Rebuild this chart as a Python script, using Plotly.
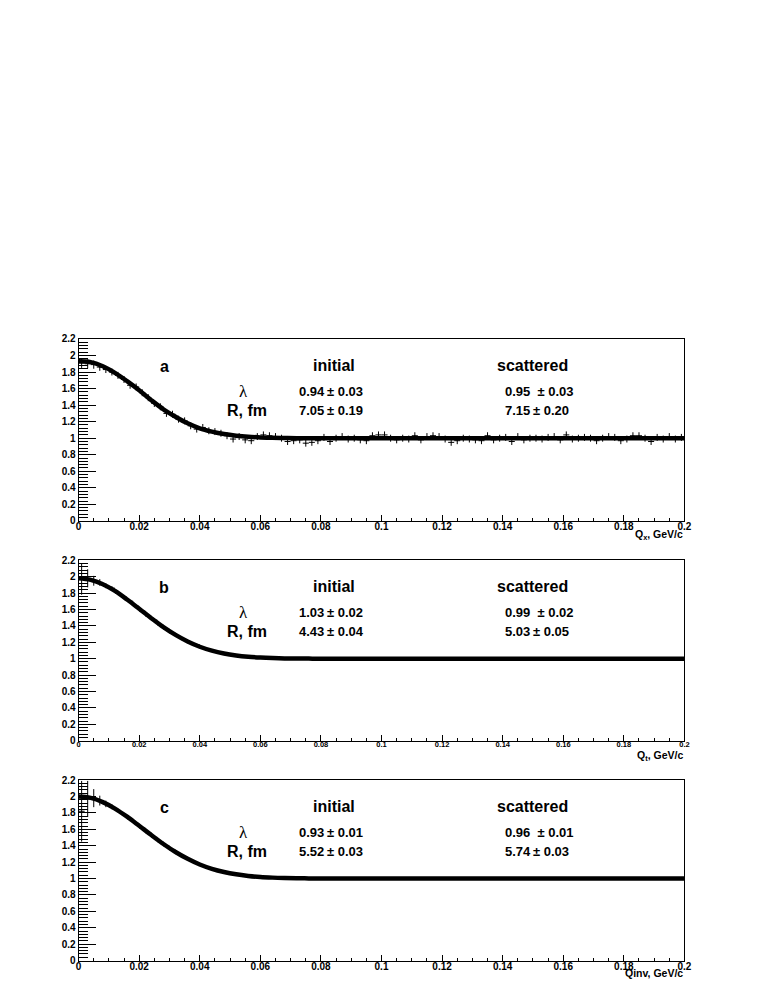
import plotly.graph_objects as go
from plotly.subplots import make_subplots

# correlation function C(q) per bin, bins of 0.002 GeV/c starting at 0
ratio_a = [1.91, 1.90, 1.89, 1.86, 1.83, 1.80, 1.76, 1.71, 1.64, 1.62,
           1.55, 1.49, 1.42, 1.38, 1.30, 1.29, 1.23, 1.21, 1.15, 1.11,
           1.13, 1.09, 1.08, 1.06, 1.03, 0.99, 1.02, 0.98, 0.97, 1.02,
           1.04, 1.03, 1.02, 1.00, 0.96, 0.97, 0.98, 0.94, 0.95, 0.97,
           1.01, 0.96, 1.00, 1.02, 0.99, 1.00, 0.98, 0.97, 1.03, 1.04,
           1.04, 1.00, 0.98, 1.00, 0.99, 1.03, 0.98, 1.02, 1.03, 1.02,
           0.99, 0.95, 0.97, 1.00, 0.99, 0.98, 0.97, 1.03, 0.98, 1.00,
           1.01, 0.96, 1.02, 0.98, 1.00, 1.00, 0.99, 1.01, 1.02, 0.98,
           1.04, 0.99, 1.00, 1.01, 1.00, 0.97, 1.00, 1.02, 1.01, 0.97,
           0.99, 1.03, 1.03, 1.00, 0.96, 1.01, 0.99, 1.02, 0.99, 1.01]
err_a = [0.06, 0.055, 0.05, 0.045] + [0.042] * 96

ratio_b = [1.97, 1.98, 1.95, 1.93, 1.89, 1.86, 1.80, 1.75, 1.70, 1.64,
           1.58, 1.52, 1.47, 1.41, 1.36, 1.31, 1.27, 1.23, 1.19, 1.17,
           1.13, 1.11, 1.09, 1.07, 1.055, 1.04, 1.035, 1.03, 1.02, 1.015,
           1.02, 1.01, 1.005, 1.005, 1.0, 1.0,
           1.002, 0.998, 1.001, 0.999, 1.000, 1.002, 0.997, 1.001, 1.000, 0.999,
           1.001, 1.000, 0.998, 1.002, 1.000, 0.999, 1.001, 1.000, 0.998, 1.001,
           1.000, 1.002, 0.999, 1.000, 1.001, 0.999, 1.000, 1.001, 0.998, 1.000,
           1.002, 0.999, 1.000, 1.001, 1.000, 0.999, 1.001, 0.998, 1.000, 1.001,
           0.999, 1.000, 1.002, 1.000, 0.999, 1.001, 1.000, 0.998, 1.001, 1.000,
           0.999, 1.001, 1.000, 1.002, 0.999, 1.000, 1.001, 0.999, 1.000, 1.001,
           1.000, 0.999, 1.001, 1.000]
err_b = [0.19, 0.11, 0.06, 0.04, 0.03, 0.025, 0.02, 0.018, 0.016, 0.015] + [0.012] * 20 + [0.008] * 70

ratio_c = [1.82, 1.97, 1.98, 1.95, 1.91, 1.875, 1.83, 1.78, 1.727, 1.672,
           1.615, 1.558, 1.502, 1.448, 1.396, 1.347, 1.301, 1.259, 1.221, 1.187,
           1.157, 1.13, 1.107, 1.088, 1.071, 1.057, 1.045, 1.036, 1.028, 1.022,
           1.017, 1.013, 1.01, 1.007, 1.005, 1.004, 1.003, 1.002, 1.001,
           1.001, 1.000, 0.999, 1.000, 1.001, 1.000, 0.999, 1.000, 1.000, 1.001,
           0.999, 1.000, 1.001, 1.000, 0.999, 1.000, 1.001, 1.000, 1.000, 0.999,
           1.000, 1.001, 1.000, 0.999, 1.000, 1.000, 1.001, 0.999, 1.000, 1.000,
           1.001, 1.000, 0.999, 1.000, 1.001, 1.000, 1.000, 0.999, 1.000, 1.001,
           1.000, 0.999, 1.000, 1.001, 1.000, 1.000, 0.999, 1.000, 1.001, 1.000,
           0.999, 1.000, 1.000, 1.001, 1.000, 0.999, 1.000, 1.001, 1.000, 1.000,
           0.999]
err_c = [0.37, 0.22, 0.11, 0.06, 0.04, 0.03, 0.02, 0.015] + [0.006] * 92

# fitted curves
q_fit = [0.0, 0.004, 0.008, 0.012, 0.016, 0.02, 0.024, 0.028, 0.032, 0.036, 0.04,
         0.044, 0.048, 0.052, 0.056, 0.06, 0.064, 0.068, 0.072, 0.076, 0.08, 0.14, 0.2]
fit_a = [1.93, 1.92, 1.87, 1.79, 1.69, 1.58, 1.46, 1.35, 1.26, 1.18, 1.12,
         1.08, 1.05, 1.03, 1.017, 1.01, 1.005, 1.003, 1.001, 1.0, 1.0, 1.0, 1.0]
fit_b = [1.98, 1.961, 1.908, 1.826, 1.722, 1.609, 1.494, 1.385, 1.29, 1.21, 1.146,
         1.098, 1.063, 1.039, 1.023, 1.0135, 1.0075, 1.004, 1.002, 1.001, 1.0, 1.0, 1.0]
fit_c = [2.0, 1.983, 1.932, 1.853, 1.754, 1.643, 1.530, 1.421, 1.323, 1.240, 1.171,
         1.118, 1.079, 1.051, 1.032, 1.019, 1.011, 1.006, 1.003, 1.0015, 1.0, 1.0, 1.0]

panels = ["a", "b", "c"]
axis_titles = ["Q<sub>x</sub>, GeV/c", "Q<sub>t</sub>, GeV/c", "Qinv, GeV/c"]
lambda_init = ["0.94\u2009± 0.03", "1.03\u2009± 0.02", "0.93\u2009± 0.01"]
lambda_scat = ["0.95 \u00a0± 0.03", "0.99 \u00a0± 0.02", "0.96 \u00a0± 0.01"]
radius_init = ["7.05\u2009± 0.19", "4.43\u2009± 0.04", "5.52\u2009± 0.03"]
radius_scat = ["7.15\u2009± 0.20", "5.03\u2009± 0.05", "5.74\u2009± 0.03"]

ratios = [ratio_a, ratio_b, ratio_c]
errors = [err_a, err_b, err_c]
fits = [fit_a, fit_b, fit_c]

FONT = "Liberation Sans, Arial, sans-serif"

fig = make_subplots(rows=3, cols=1)

for i in range(3):
    bins = [round(0.001 + 0.002 * k, 3) for k in range(len(ratios[i]))]
    fig.add_trace(go.Scatter(x=bins, y=ratios[i], mode='markers',
                             marker=dict(size=1, color='black'),
                             error_x=dict(type='constant', value=0.001, width=0, thickness=1, color='black'),
                             error_y=dict(type='data', array=errors[i], width=0, thickness=1, color='black'),
                             showlegend=False), row=i + 1, col=1)
    fig.add_trace(go.Scatter(x=q_fit, y=fits[i], mode='lines', line=dict(color='black', width=4.5, shape='spline'),
                             showlegend=False), row=i + 1, col=1)

domains = [(0.4757, 0.6606), (0.2523, 0.4357), (0.0289, 0.2123)]
xtick_sizes = [10, 7.5, 10]
title_y = [0.4610, 0.2371, 0.0162]

annotations = []
for i in range(3):
    n = "" if i == 0 else str(i + 1)
    fig.update_layout(**{
        "xaxis" + n: dict(domain=[0.0996, 0.8978], range=[0, 0.2], dtick=0.02, ticks='inside', ticklen=6,
                          tickcolor='black', showline=True, linecolor='black', linewidth=1, mirror=True,
                          showgrid=False, zeroline=False, ticklabelstandoff=-4,
                          tickfont=dict(family=FONT, size=xtick_sizes[i], color='black', weight='bold'),
                          minor=dict(dtick=0.005, ticks='inside', ticklen=3, tickcolor='black', showgrid=False)),
        "yaxis" + n: dict(domain=list(domains[i]), range=[0, 2.2], dtick=0.2, ticks='inside', ticklen=17,
                          tickcolor='black', showline=True, linecolor='black', linewidth=1, mirror=True,
                          showgrid=False, zeroline=False,
                          tickfont=dict(family=FONT, size=10, color='black', weight='bold'),
                          minor=dict(dtick=0.04, ticks='inside', ticklen=9, tickcolor='black', showgrid=False)),
    })
    xr, yr = "x" + n, "y" + n
    bold = dict(family=FONT, color='black', weight='bold')
    annotations += [
        dict(x=0.0282, y=1.87, xref=xr, yref=yr, text=panels[i], showarrow=False, font=dict(size=16, **bold)),
        dict(x=0.0844, y=1.88, xref=xr, yref=yr, text="initial", showarrow=False, font=dict(size=16, **bold)),
        dict(x=0.1500, y=1.88, xref=xr, yref=yr, text="scattered", showarrow=False, font=dict(size=16, **bold)),
        dict(x=0.0545, y=1.56, xref=xr, yref=yr, text="λ", showarrow=False,
             font=dict(family="Liberation Serif, serif", size=17, color='black')),
        dict(x=0.0555, y=1.33, xref=xr, yref=yr, text="R, fm", showarrow=False, font=dict(size=16, **bold)),
        dict(x=0.0720, y=1.56, xref=xr, yref=yr, text=lambda_init[i], showarrow=False, xanchor='left',
             font=dict(size=13, **bold)),
        dict(x=0.0720, y=1.33, xref=xr, yref=yr, text=radius_init[i], showarrow=False, xanchor='left',
             font=dict(size=13, **bold)),
        dict(x=0.1400, y=1.56, xref=xr, yref=yr, text=lambda_scat[i], showarrow=False, xanchor='left',
             font=dict(size=13, **bold)),
        dict(x=0.1400, y=1.33, xref=xr, yref=yr, text=radius_scat[i], showarrow=False, xanchor='left',
             font=dict(size=13, **bold)),
        dict(x=0.8991, y=title_y[i], xref='paper', yref='paper', text=axis_titles[i], showarrow=False,
             xanchor='right', yanchor='middle', font=dict(size=10.5, **bold)),
    ]

# the capture comes out about 0.8% smaller than the page, so the figure is sized up to match
fig.update_layout(width=769, height=995, margin=dict(l=0, r=0, t=0, b=0),
                  paper_bgcolor='white', plot_bgcolor='white', annotations=annotations,
                  font=dict(family=FONT, color='black'))
fig.write_html("out.html", config={'displayModeBar': False},
               post_script="document.body.style.margin='0';"
                           "document.documentElement.style.overflow='hidden';"
                           "document.body.style.overflow='hidden';")
